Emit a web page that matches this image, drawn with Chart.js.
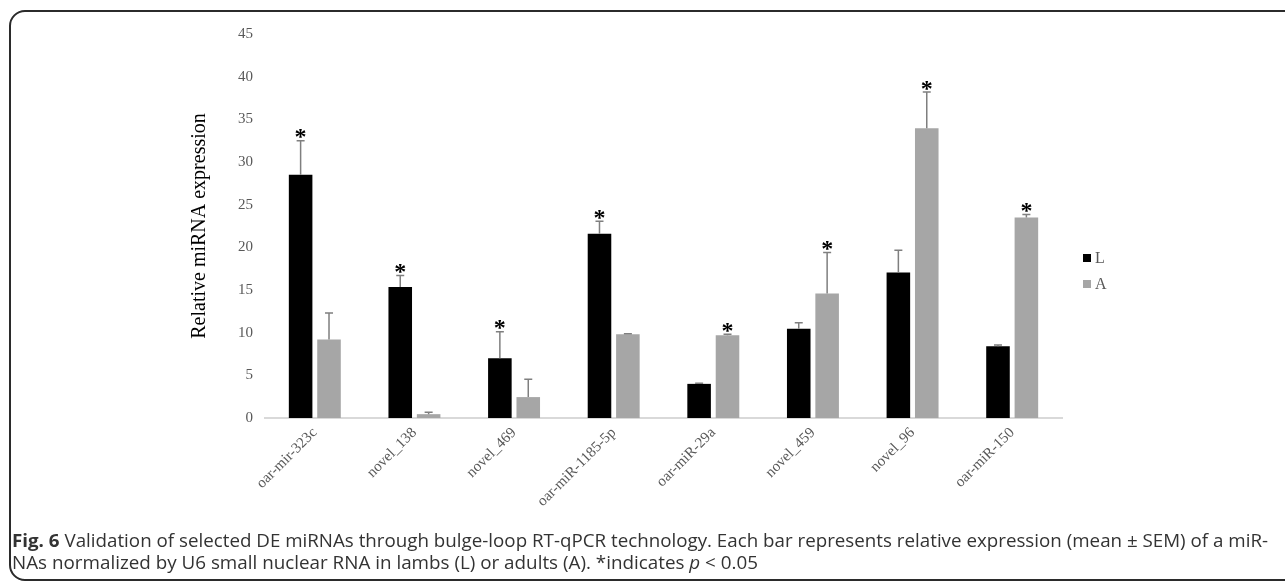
<!DOCTYPE html>
<html><head><meta charset="utf-8">
<script src="https://cdn.jsdelivr.net/npm/chart.js@4.4.1/dist/chart.umd.min.js"></script>
<style>
html,body{margin:0;padding:0;background:#fff;width:1285px;height:582px;overflow:hidden;position:relative}
#frame{position:absolute;left:9px;top:10px;width:1320px;height:571px;border:2px solid #2b2b2b;border-radius:16px;box-sizing:border-box}
#wrap{position:absolute;left:0;top:0;width:1285px;height:582px}
.cap{position:absolute;left:12px;font-family:"Open Sans",sans-serif;font-size:18px;line-height:21px;color:#333;white-space:nowrap;transform-origin:0 50%}
</style></head>
<body>
<div id="frame"></div>
<div id="wrap"><canvas id="c" width="1285" height="582"></canvas></div>
<div class="cap" id="cap1" style="top:530px"><b>Fig. 6</b> Validation of selected DE miRNAs through bulge-loop RT-qPCR technology. Each bar represents relative expression (mean ± SEM) of a miR-</div>
<div class="cap" id="cap2" style="top:552px">NAs normalized by U6 small nuclear RNA in lambs (L) or adults (A). *indicates <i>p</i> &lt; 0.05</div>
<script>
const categories = ['oar-mir-323c','novel_138','novel_469','oar-miR-1185-5p','oar-miR-29a','novel_459','novel_96','oar-miR-150'];
const seriesLabels = ['L','A'];
const lambValues  = [28.5, 15.35, 7.0, 21.6, 4.0, 10.45, 17.05, 8.4];
const lambSEM     = [4.0, 1.35, 3.1, 1.45, 0.08, 0.72, 2.6, 0.15];
const adultValues = [9.2, 0.45, 2.45, 9.8, 9.7, 14.6, 33.95, 23.5];
const adultSEM    = [3.1, 0.22, 2.1, 0.06, 0.1, 4.8, 4.25, 0.35];
const lambSignificant  = [true, true, true, true, false, false, false, false];
const adultSignificant = [false, false, false, false, true, true, true, true];
const yMin = 0, yMax = 45, yStep = 5;

const errorBarPlugin = {
  id: 'errorBars',
  afterDatasetsDraw(chart) {
    const ctx = chart.ctx, ys = chart.scales.y;
    chart.data.datasets.forEach((ds, di) => {
      const meta = chart.getDatasetMeta(di);
      meta.data.forEach((bar, i) => {
        const top = ys.getPixelForValue(ds.data[i] + ds.sem[i]);
        ctx.save();
        ctx.strokeStyle = '#7f7f7f';
        ctx.lineWidth = 1.5;
        ctx.beginPath();
        ctx.moveTo(bar.x, bar.y);
        ctx.lineTo(bar.x, top);
        ctx.moveTo(bar.x - 4, top);
        ctx.lineTo(bar.x + 4, top);
        ctx.stroke();
        if (ds.sig[i]) {
          ctx.fillStyle = '#000';
          ctx.font = 'bold 24px "Liberation Serif"';
          ctx.textAlign = 'center';
          ctx.textBaseline = 'alphabetic';
          const m = ctx.measureText('*');
          const cy = top - 7;
          ctx.fillText('*', bar.x, cy + (m.actualBoundingBoxAscent - m.actualBoundingBoxDescent) / 2);
        }
        ctx.restore();
      });
    });
  }
};

const legendPlugin = {
  id: 'sideLegend',
  afterDraw(chart) {
    const ctx = chart.ctx, a = chart.chartArea;
    chart.data.datasets.forEach((ds, i) => {
      const x = a.right + 21, y = a.top + 220 + i * 26;
      ctx.save();
      ctx.fillStyle = ds.backgroundColor;
      ctx.fillRect(x, y, 8, 8);
      ctx.fillStyle = '#595959';
      ctx.font = '16px "Liberation Serif"';
      ctx.textBaseline = 'middle';
      ctx.textAlign = 'left';
      ctx.fillText(ds.label, x + 12, y + 4.5);
      ctx.restore();
    });
  }
};

new Chart(document.getElementById('c'), {
  type: 'bar',
  data: {
    labels: categories,
    datasets: [
      { label: seriesLabels[0], data: lambValues, sem: lambSEM, sig: lambSignificant, backgroundColor: '#000000' },
      { label: seriesLabels[1], data: adultValues, sem: adultSEM, sig: adultSignificant, backgroundColor: '#a6a6a6' }
    ]
  },
  options: {
    responsive: false,
    animation: false,
    events: [],
    categoryPercentage: 0.57,
    barPercentage: 0.83,
    layout: { padding: { left: 188, right: 223, top: 34, bottom: 64 } },
    plugins: { legend: { display: false }, tooltip: { enabled: false } },
    scales: {
      x: {
        grid: { display: false, drawTicks: false },
        border: { display: true, color: '#d9d9d9', width: 2 },
        ticks: { minRotation: 45, maxRotation: 45, autoSkip: false, color: '#595959', padding: 6,
                 font: { family: 'Liberation Serif', size: 15 } },
        afterFit(s) { s.height = 100; }
      },
      y: {
        min: yMin, max: yMax,
        grid: { display: false, drawTicks: false },
        border: { display: false },
        ticks: { stepSize: yStep, color: '#595959', padding: 12, font: { family: 'Liberation Serif', size: 15 } },
        title: { display: true, text: 'Relative miRNA expression', color: '#000', padding: 0,
                 font: { family: 'Liberation Serif', size: 20 } },
        afterFit(s) { s.width = 77; }
      }
    }
  },
  plugins: [errorBarPlugin, legendPlugin]
});

function fitCaption(id, w) {
  const el = document.getElementById(id);
  const r = el.getBoundingClientRect().width;
  el.style.transform = 'scaleX(' + (w / r) + ')';
}
fitCaption('cap1', 1256);
fitCaption('cap2', 746);
</script>
</body></html>
